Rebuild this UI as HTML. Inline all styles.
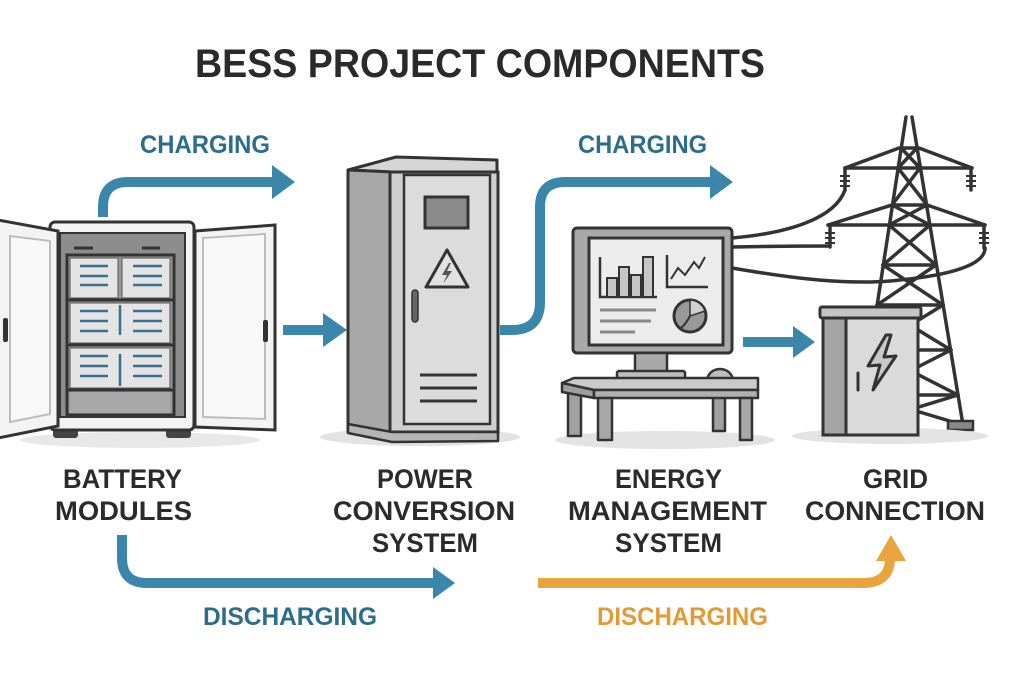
<!DOCTYPE html>
<html><head><meta charset="utf-8"><style>
html,body{margin:0;padding:0;background:#fff;}
svg{display:block;}
text{font-family:"Liberation Sans",Arial,sans-serif;font-weight:bold;}
</style></head><body>
<svg width="1024" height="673" viewBox="0 0 1024 673" xmlns="http://www.w3.org/2000/svg">
<rect width="1024" height="673" fill="#fff"/>

<!-- Title -->
<text x="195" y="77" font-size="40" fill="#2a2a2a" textLength="570" lengthAdjust="spacingAndGlyphs">BESS PROJECT COMPONENTS</text>

<!-- CHARGING labels -->
<text x="140" y="153" font-size="25" fill="#2c6c8c" textLength="130" lengthAdjust="spacingAndGlyphs">CHARGING</text>
<text x="578" y="153" font-size="25" fill="#2c6c8c" textLength="129" lengthAdjust="spacingAndGlyphs">CHARGING</text>

<!-- Blue arrows -->
<g fill="none" stroke="#3b87ab" stroke-width="10">
  <path d="M103,217 L103,207 Q103,182 128,182 L274,182"/>
  <path d="M283,330 L325,330"/>
  <path d="M500,330 L512,330 Q540,330 540,302 L540,207 Q540,182 565,182 L712,182"/>
  <path d="M743,342 L795,342"/>
  <path d="M122,535 L122,558 Q122,583 147,583 L435,583"/>
</g>
<g fill="#3b87ab">
  <polygon points="272,165 295,182 272,199"/>
  <polygon points="323,313 347,330 323,347"/>
  <polygon points="710,165 733,182 710,199"/>
  <polygon points="793,326 815,342 793,358"/>
  <polygon points="433,567 455,583 433,599"/>
</g>
<!-- Orange arrow -->
<path d="M538,583 L863,583 Q890,583 890,558" fill="none" stroke="#eaa43c" stroke-width="10"/>
<polygon points="876,561 891,535 906,561" fill="#eaa43c"/>

<!-- ===== Battery cabinet ===== -->
<ellipse cx="140" cy="440" rx="120" ry="8" fill="#e8e8e8"/>
<rect x="53" y="427" width="25" height="11" rx="3" fill="#444"/>
<rect x="166" y="427" width="25" height="11" rx="3" fill="#444"/>
<rect x="50" y="222" width="144" height="208" rx="5" fill="#f3f3f3" stroke="#333" stroke-width="3"/>
<rect x="60" y="233" width="125" height="184" fill="#8d8d8d" stroke="#333" stroke-width="2"/>
<line x1="74" y1="248" x2="93" y2="248" stroke="#333" stroke-width="3"/>
<line x1="142" y1="248" x2="160" y2="248" stroke="#333" stroke-width="3"/>
<rect x="67" y="255" width="107" height="160" fill="#9a9a9a" stroke="#333" stroke-width="3"/>
<g fill="#e4e4e4" stroke="#555" stroke-width="1">
  <rect x="70" y="258" width="48" height="40"/>
  <rect x="122" y="258" width="48" height="40"/>
  <rect x="70" y="303" width="100" height="40"/>
  <rect x="70" y="348" width="100" height="40"/>
</g>
<g stroke="#333" stroke-width="3">
  <line x1="67" y1="300" x2="174" y2="300"/>
  <line x1="67" y1="345" x2="174" y2="345"/>
  <line x1="67" y1="390" x2="174" y2="390"/>
</g>
<rect x="70" y="392" width="100" height="21" fill="#a8a8a8"/>
<g stroke="#3a6f8f" stroke-width="2.5">
  <line x1="80" y1="266" x2="108" y2="266"/><line x1="80" y1="276" x2="108" y2="276"/><line x1="80" y1="285" x2="108" y2="285"/>
  <line x1="133" y1="266" x2="162" y2="266"/><line x1="133" y1="276" x2="162" y2="276"/><line x1="133" y1="285" x2="162" y2="285"/>
  <line x1="80" y1="311" x2="108" y2="311"/><line x1="80" y1="321" x2="108" y2="321"/><line x1="80" y1="331" x2="108" y2="331"/>
  <line x1="133" y1="311" x2="162" y2="311"/><line x1="133" y1="321" x2="162" y2="321"/><line x1="133" y1="331" x2="162" y2="331"/>
  <line x1="80" y1="356" x2="108" y2="356"/><line x1="80" y1="366" x2="108" y2="366"/><line x1="80" y1="376" x2="108" y2="376"/>
  <line x1="133" y1="356" x2="162" y2="356"/><line x1="133" y1="366" x2="162" y2="366"/><line x1="133" y1="376" x2="162" y2="376"/>
  <line x1="120" y1="305" x2="120" y2="335"/>
  <line x1="120" y1="354" x2="120" y2="386"/>
</g>
<!-- left door -->
<polygon points="-2,220 58,231 58,426 -2,438" fill="#f3f3f3" stroke="#333" stroke-width="3"/>
<polygon points="10,236 50,241 50,414 10,422" fill="#f8f8f8" stroke="#bdbdbd" stroke-width="2"/>
<rect x="3" y="318" width="5" height="24" rx="2" fill="#333"/>
<!-- right door -->
<polygon points="195,231 275,225 275,430 195,427" fill="#f3f3f3" stroke="#333" stroke-width="3"/>
<polygon points="203,238 265,234 265,419 203,417" fill="#f8f8f8" stroke="#bdbdbd" stroke-width="2"/>
<rect x="263" y="320" width="5" height="22" rx="2" fill="#333"/>

<!-- ===== PCS cabinet ===== -->
<ellipse cx="420" cy="437" rx="100" ry="9" fill="#e3e3e3"/>
<polygon points="348,170 396,157 497,160 497,172 392,172" fill="#d6d6d6" stroke="#333" stroke-width="3" stroke-linejoin="round"/>
<polygon points="348,170 392,172 392,441 348,432" fill="#a8a8a8" stroke="#333" stroke-width="3" stroke-linejoin="round"/>
<rect x="390" y="172" width="108" height="260" fill="#cfcfcf" stroke="#333" stroke-width="3"/>
<rect x="404" y="175" width="86" height="249" fill="#dcdcdc" stroke="#333" stroke-width="2.5"/>
<polygon points="348,424 392,432 498,432 498,441 392,442 348,433" fill="#b5b5b5" stroke="#333" stroke-width="2.5" stroke-linejoin="round"/>
<rect x="425" y="197" width="43" height="31" fill="#8a8a8a" stroke="#333" stroke-width="3"/>
<polygon points="447,250 426,287 468,287" fill="#e2e2e2" stroke="#333" stroke-width="3" stroke-linejoin="round"/>
<polygon points="449,263 442,275 447,275 443,284 452,271 447,271 451,263" fill="#555"/>
<rect x="412" y="290" width="6" height="32" rx="3" fill="#666" stroke="#333" stroke-width="1.5"/>
<g stroke="#333" stroke-width="3">
  <line x1="420" y1="375" x2="477" y2="375"/>
  <line x1="420" y1="388" x2="477" y2="388"/>
  <line x1="420" y1="401" x2="477" y2="401"/>
</g>

<!-- ===== Tower ===== -->
<g fill="none" stroke="#333" stroke-width="3.5" stroke-linejoin="round" stroke-linecap="round">
  <!-- wires -->
  <path d="M732,238 C790,233 835,218 845,190"/>
  <path d="M732,247 C780,246 810,246 830,246"/>
  <path d="M732,268 C790,278 850,286 900,280 C950,275 985,265 985,248"/>
  <!-- legs -->
  <line x1="906" y1="117" x2="858" y2="430"/>
  <line x1="912" y1="117" x2="963" y2="425"/>
  <!-- arms -->
  <line x1="845" y1="168" x2="972" y2="168"/>
  <line x1="845" y1="168" x2="899" y2="148"/>
  <line x1="972" y1="168" x2="919" y2="148"/>
  <line x1="828" y1="225" x2="985" y2="225"/>
  <line x1="828" y1="225" x2="892" y2="205"/>
  <line x1="985" y1="225" x2="927" y2="205"/>
  <!-- bars -->
  <line x1="901" y1="148" x2="917" y2="148"/>
  <line x1="892" y1="205" x2="927" y2="205"/>
  <line x1="883" y1="265" x2="936" y2="265"/>
  <line x1="877" y1="305" x2="943" y2="305"/>
  <line x1="870" y1="350" x2="951" y2="350"/>
  <line x1="863" y1="395" x2="958" y2="395"/>
  <!-- lattice X -->
  <line x1="901" y1="148" x2="920" y2="168"/><line x1="917" y1="148" x2="898" y2="168"/>
  <line x1="898" y1="168" x2="927" y2="205"/><line x1="920" y1="168" x2="892" y2="205"/>
  <line x1="892" y1="205" x2="930" y2="225"/><line x1="927" y1="205" x2="889" y2="225"/>
  <line x1="889" y1="225" x2="936" y2="265"/><line x1="930" y1="225" x2="883" y2="265"/>
  <line x1="883" y1="265" x2="943" y2="305"/><line x1="936" y1="265" x2="877" y2="305"/>
  <line x1="877" y1="305" x2="951" y2="350"/><line x1="943" y1="305" x2="870" y2="350"/>
  <line x1="870" y1="350" x2="958" y2="395"/><line x1="951" y1="350" x2="863" y2="395"/>
  <line x1="863" y1="395" x2="963" y2="425"/><line x1="958" y1="395" x2="860" y2="425"/>
  <!-- insulators -->
  <line x1="845" y1="168" x2="845" y2="190"/>
  <line x1="971" y1="168" x2="971" y2="190"/>
  <line x1="830" y1="225" x2="830" y2="247"/>
  <line x1="984" y1="225" x2="984" y2="248"/>
</g>
<g stroke="#333" stroke-width="2">
  <line x1="840" y1="176" x2="850" y2="176"/><line x1="840" y1="181" x2="850" y2="181"/><line x1="840" y1="186" x2="850" y2="186"/>
  <line x1="966" y1="176" x2="976" y2="176"/><line x1="966" y1="181" x2="976" y2="181"/><line x1="966" y1="186" x2="976" y2="186"/>
  <line x1="825" y1="233" x2="835" y2="233"/><line x1="825" y1="238" x2="835" y2="238"/><line x1="825" y1="243" x2="835" y2="243"/>
  <line x1="979" y1="233" x2="989" y2="233"/><line x1="979" y1="238" x2="989" y2="238"/><line x1="979" y1="243" x2="989" y2="243"/>
</g>
<rect x="948" y="421" width="25" height="9" fill="#888" stroke="#333" stroke-width="2.5"/>

<!-- ===== Grid box ===== -->
<ellipse cx="890" cy="436" rx="98" ry="8" fill="#e3e3e3"/>
<rect x="823" y="318" width="95" height="117" fill="#dadada" stroke="#333" stroke-width="3"/>
<rect x="823" y="318" width="23" height="117" fill="#a5a5a5" stroke="#333" stroke-width="3"/>
<rect x="820" y="307" width="101" height="11" rx="2" fill="#c6c6c6" stroke="#333" stroke-width="3"/>
<polygon points="886,335 868,366 880,365 873,390 896,356 884,357 891,335" fill="#c8c8c8" stroke="#333" stroke-width="3" stroke-linejoin="round"/>
<line x1="858" y1="373" x2="858" y2="390" stroke="#333" stroke-width="3" stroke-linecap="round"/>

<!-- ===== EMS computer ===== -->
<ellipse cx="665" cy="440" rx="110" ry="9" fill="#e3e3e3"/>
<rect x="573" y="228" width="159" height="125" rx="4" fill="#a9a9a9" stroke="#333" stroke-width="3"/>
<rect x="589" y="238" width="134" height="107" fill="#ececec" stroke="#333" stroke-width="3"/>
<polyline points="600,257 600,297 657,297" fill="none" stroke="#333" stroke-width="2.5"/>
<g fill="#c6c6c6" stroke="#333" stroke-width="2">
  <rect x="607" y="278" width="10" height="19"/>
  <rect x="619" y="267" width="10" height="30"/>
  <rect x="631" y="275" width="10" height="22"/>
  <rect x="643" y="257" width="10" height="40"/>
</g>
<polyline points="667,255 667,287 708,287" fill="none" stroke="#333" stroke-width="2.5"/>
<polyline points="671,279 678,268 685,275 694,262 699,268 705,257" fill="none" stroke="#333" stroke-width="2"/>
<g stroke="#888" stroke-width="3">
  <line x1="600" y1="310" x2="656" y2="310"/>
  <line x1="600" y1="321" x2="651" y2="321"/>
  <line x1="600" y1="332" x2="635" y2="332"/>
</g>
<circle cx="690" cy="316" r="16" fill="#999" stroke="#333" stroke-width="3"/>
<path d="M690,316 L690,300 A16,16 0 0 1 705,311 Z" fill="#d0d0d0" stroke="#333" stroke-width="1.5"/>
<path d="M690,316 Q686,324 680,329" fill="none" stroke="#333" stroke-width="2"/>
<rect x="635" y="353" width="32" height="19" fill="#a9a9a9" stroke="#333" stroke-width="2.5"/>
<rect x="617" y="371" width="68" height="9" rx="2" fill="#bdbdbd" stroke="#333" stroke-width="2.5"/>
<path d="M707,381 A13,12 0 0 1 733,381 Z" fill="#bdbdbd" stroke="#333" stroke-width="2.5"/>
<!-- desk -->
<g stroke="#333" stroke-width="2.5" stroke-linejoin="round">
  <rect x="568" y="390" width="13" height="46" fill="#a0a0a0"/>
  <rect x="713" y="395" width="12" height="36" fill="#a0a0a0"/>
  <polygon points="562,383 574,378 758,378 758,390 594,390" fill="#cacaca"/>
  <polygon points="562,383 594,390 594,398 562,392" fill="#9e9e9e"/>
  <rect x="594" y="390" width="164" height="8" fill="#b0b0b0"/>
  <rect x="598" y="398" width="14" height="42" fill="#a8a8a8"/>
  <rect x="740" y="398" width="12" height="42" fill="#a8a8a8"/>
</g>

<!-- ===== Labels ===== -->
<g font-size="27" fill="#2b2b2b">
  <text x="63" y="488" textLength="119" lengthAdjust="spacingAndGlyphs">BATTERY</text>
  <text x="55" y="520" textLength="137" lengthAdjust="spacingAndGlyphs">MODULES</text>
  <text x="377" y="488" textLength="96" lengthAdjust="spacingAndGlyphs">POWER</text>
  <text x="333" y="520" textLength="182" lengthAdjust="spacingAndGlyphs">CONVERSION</text>
  <text x="372" y="552" textLength="106" lengthAdjust="spacingAndGlyphs">SYSTEM</text>
  <text x="615" y="488" textLength="107" lengthAdjust="spacingAndGlyphs">ENERGY</text>
  <text x="568" y="520" textLength="199" lengthAdjust="spacingAndGlyphs">MANAGEMENT</text>
  <text x="615" y="552" textLength="107" lengthAdjust="spacingAndGlyphs">SYSTEM</text>
  <text x="863" y="488" textLength="65" lengthAdjust="spacingAndGlyphs">GRID</text>
  <text x="805" y="520" textLength="180" lengthAdjust="spacingAndGlyphs">CONNECTION</text>
</g>
<text x="203" y="625" font-size="25" fill="#2c6c8c" textLength="174" lengthAdjust="spacingAndGlyphs">DISCHARGING</text>
<text x="597" y="625" font-size="25" fill="#e49a32" textLength="171" lengthAdjust="spacingAndGlyphs">DISCHARGING</text>
</svg>
</body></html>
